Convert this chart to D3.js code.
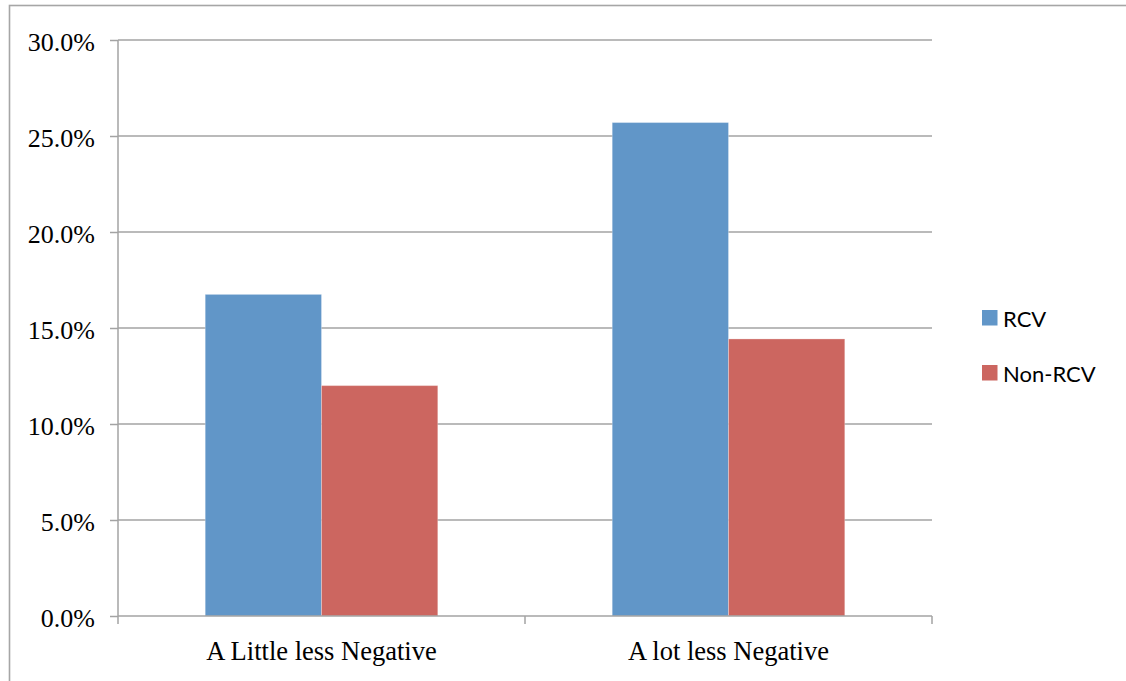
<!DOCTYPE html>
<html>
<head>
<meta charset="utf-8">
<script src="https://cdn.jsdelivr.net/npm/d3@7"></script>
<style>
  html, body { margin: 0; padding: 0; background: #fff; }
  svg { display: block; }
</style>
</head>
<body>
<svg id="chart" width="1126" height="681"></svg>
<script>
// Response categories and the share of respondents in each group
const categories = ["A Little less Negative", "A lot less Negative"];
const seriesNames = ["RCV", "Non-RCV"];
const rcvValues = [0.1675, 0.257];
const nonRcvValues = [0.12, 0.1443];
const yTicks = [0, 0.05, 0.10, 0.15, 0.20, 0.25, 0.30];
const seriesColors = ["#6196c8", "#cc6660"];

const svg = d3.select("#chart");
const W = 1126, H = 681;
const plot = { left: 118, right: 932, top: 40, bottom: 616 };
const gridColor = "#a3a3a3";

// Outer chart frame (runs past the right and bottom edges)
svg.append("rect")
  .attr("x", 9.5).attr("y", 5.5)
  .attr("width", W + 20).attr("height", H + 20)
  .attr("fill", "none")
  .attr("stroke", "#a6a6a6")
  .attr("stroke-width", 1.6);

const y = d3.scaleLinear().domain([0, 0.30]).range([plot.bottom, plot.top]);
const x0 = d3.scaleBand()
  .domain(categories)
  .range([plot.left, plot.right])
  .paddingInner(0.4286)
  .paddingOuter(0.2143);
const x1 = d3.scaleBand()
  .domain(seriesNames)
  .range([0, x0.bandwidth()])
  .padding(0);

// Horizontal gridlines
svg.append("g")
  .selectAll("line")
  .data(yTicks.filter(t => t > 0))
  .join("line")
  .attr("x1", plot.left).attr("x2", plot.right)
  .attr("y1", d => y(d)).attr("y2", d => y(d))
  .attr("stroke", gridColor)
  .attr("stroke-width", 1.5);

// Bars
const rows = categories.map((c, i) => ({
  category: c,
  values: [
    { series: "RCV", value: rcvValues[i] },
    { series: "Non-RCV", value: nonRcvValues[i] }
  ]
}));
const color = d3.scaleOrdinal().domain(seriesNames).range(seriesColors);

svg.append("g")
  .selectAll("g")
  .data(rows)
  .join("g")
  .attr("transform", d => `translate(${x0(d.category)},0)`)
  .selectAll("rect")
  .data(d => d.values)
  .join("rect")
  .attr("x", d => x1(d.series))
  .attr("width", x1.bandwidth())
  .attr("y", d => y(d.value))
  .attr("height", d => y(0) - y(d.value))
  .attr("fill", d => color(d.series))
  .attr("stroke", "rgba(255,255,255,0.28)")
  .attr("stroke-width", 1);

// Y axis
const yAxis = d3.axisLeft(y)
  .tickValues(yTicks)
  .tickSize(8)
  .tickPadding(15)
  .tickFormat(d3.format(".1%"));
const gy = svg.append("g")
  .attr("transform", `translate(${plot.left},0)`)
  .call(yAxis);
gy.select(".domain").attr("stroke", gridColor).attr("stroke-width", 1.5)
  .attr("d", `M0,${plot.top}V${plot.bottom}`);
gy.selectAll(".tick line").attr("stroke", gridColor).attr("stroke-width", 1.5);
gy.selectAll(".tick text")
  .attr("font-family", "'Liberation Serif', 'Times New Roman', serif")
  .attr("font-size", 26)
  .attr("fill", "#000")
  .attr("dy", "0.42em");

// X axis: ticks sit on the category band boundaries
const gx = svg.append("g")
  .attr("transform", `translate(0,${plot.bottom})`);
gx.append("line")
  .attr("x1", plot.left).attr("x2", plot.right)
  .attr("y1", 0).attr("y2", 0)
  .attr("stroke", gridColor).attr("stroke-width", 1.5);
const boundaries = [plot.left, (x0(categories[0]) + x0.bandwidth() + x0(categories[1])) / 2, plot.right];
gx.selectAll("line.tick")
  .data(boundaries)
  .join("line")
  .attr("class", "tick")
  .attr("x1", d => d).attr("x2", d => d)
  .attr("y1", 0).attr("y2", 8)
  .attr("stroke", gridColor).attr("stroke-width", 1.5);
gx.selectAll("text")
  .data(categories)
  .join("text")
  .attr("x", d => x0(d) + x0.bandwidth() / 2)
  .attr("y", 44)
  .attr("text-anchor", "middle")
  .attr("font-family", "'Liberation Serif', 'Times New Roman', serif")
  .attr("font-size", 26.5)
  .attr("fill", "#000")
  .text(d => d);

// Legend
const legend = svg.append("g");
const legendItems = legend.selectAll("g")
  .data(seriesNames)
  .join("g")
  .attr("transform", (d, i) => `translate(982,${310 + i * 55})`);
legendItems.append("rect")
  .attr("width", 15.5).attr("height", 15.5)
  .attr("fill", d => color(d));
legendItems.append("text")
  .attr("x", 21).attr("y", 17)
  .attr("font-family", "Lato, 'Open Sans', sans-serif")
  .attr("font-size", 22)
  .attr("fill", "#000")
  .text(d => d);
</script>
</body>
</html>
